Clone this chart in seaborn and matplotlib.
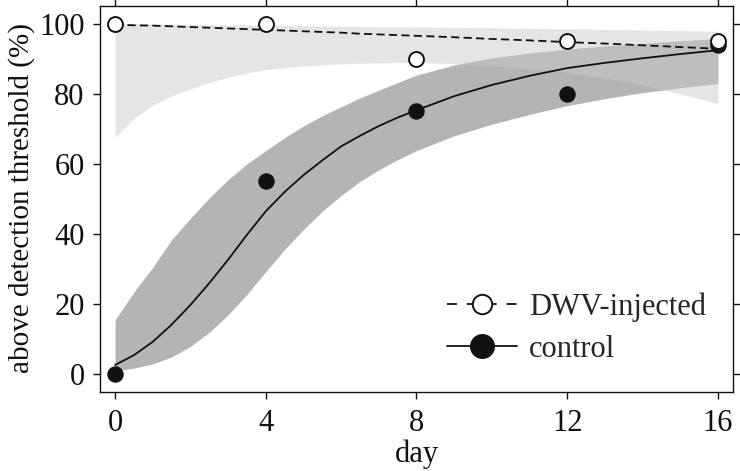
import seaborn as sns
import matplotlib.pyplot as plt
import numpy as np
import pandas as pd
from matplotlib.lines import Line2D

# observed points
days = [0, 4, 8, 12, 16]
dwv_obs = [100, 100, 90, 95, 95]
control_obs = [0, 55, 75, 80, 94]

# fitted curves and bands
fit_days = [0, 0.5, 1, 1.5, 2, 2.5, 3, 3.5, 4, 4.5, 5, 5.5, 6, 6.5, 7, 7.5, 8,
            9, 10, 11, 12, 13, 14, 15, 16]
control_fit = [2.7, 5.5, 9.3, 14.2, 19.8, 26.0, 32.7, 39.8, 46.5, 52.0, 56.8, 61.0,
               65.0, 68.0, 70.8, 73.2, 75.3, 79.3, 82.5, 85.1, 87.3, 88.8, 90.1,
               91.3, 92.4]
control_lo = [1.0, 1.8, 3.0, 5.0, 8.0, 12.0, 17.0, 22.8, 29.3, 35.6, 41.3, 46.5,
              51.0, 55.0, 58.3, 61.2, 63.8, 68.0, 71.3, 74.1, 76.6, 78.6, 80.3,
              81.7, 82.9]
control_hi = [15.5, 23.5, 30.5, 38.4, 44.5, 50.3, 55.5, 60.0, 63.8, 67.5, 70.8, 73.7,
              76.3, 78.8, 81.0, 83.2, 85.3, 88.2, 90.2, 91.6, 92.7, 93.6, 94.4,
              95.1, 95.7]
dwv_fit = [99.7, 99.5, 99.4, 99.2, 99.0, 98.8, 98.6, 98.4, 98.2, 98.0, 97.8, 97.6,
           97.4, 97.1, 96.9, 96.7, 96.5, 96.1, 95.6, 95.2, 94.7, 94.3, 93.8, 93.3,
           92.8]
dwv_lo = [67.6, 73.0, 76.7, 79.3, 81.4, 83.2, 84.7, 85.9, 86.9, 87.4, 87.9, 88.2,
          88.5, 88.7, 88.8, 88.9, 88.9, 88.6, 88.0, 87.2, 86.0, 84.5, 82.5, 80.0,
          77.2]
dwv_hi = [100, 100, 99.9, 99.85, 99.8, 99.7, 99.6, 99.55, 99.5, 99.45, 99.4, 99.3,
          99.2, 99.15, 99.1, 99.05, 99.0, 98.9, 98.8, 98.6, 98.5, 98.3, 98.2, 98.0,
          97.8]

sns.set_theme(style="ticks")
plt.rcParams['font.family'] = ['Liberation Serif', 'DejaVu Serif']
plt.rcParams['font.size'] = 22

fig = plt.figure(figsize=(7.4, 4.71), dpi=100)
ax = fig.add_axes([0.1351, 0.1677, 0.8554, 0.8196])

obs = pd.DataFrame({'day': days, 'dwv': dwv_obs, 'control': control_obs})
fit = pd.DataFrame({'day': fit_days, 'dwv': dwv_fit, 'control': control_fit})

ink = '#111111'

# bands
ax.fill_between(fit_days, control_lo, control_hi, color='#b4b4b4', lw=0, zorder=1)
ax.fill_between(fit_days, dwv_lo, dwv_hi, color='#c9c9c9', alpha=0.48, lw=0, zorder=2)

# fitted lines
sns.lineplot(data=fit, x='day', y='control', ax=ax, color=ink, lw=1.3, zorder=3)
sns.lineplot(data=fit, x='day', y='dwv', ax=ax, color=ink, lw=1.3, zorder=3)
ax.lines[-1].set_dashes((4.5, 2.4))

# points
sns.scatterplot(data=obs, x='day', y='control', ax=ax, s=115, color=ink,
                edgecolor=ink, linewidth=1.1, zorder=4)
sns.scatterplot(data=obs, x='day', y='dwv', ax=ax, s=115, color='white',
                edgecolor=ink, linewidth=1.4, zorder=5)

ax.set_xlim(-0.4, 16.4)
ax.set_ylim(-5, 105)
ax.set_xticks([0, 4, 8, 12, 16])
ax.set_yticks([0, 20, 40, 60, 80, 100])
ax.tick_params(direction='out', length=5, width=1, colors=ink,
               top=True, right=True, labeltop=False, labelright=False, labelsize=22)
ax.tick_params(axis='x', pad=7)
ax.tick_params(axis='y', pad=6)
for sp in ax.spines.values():
    sp.set_visible(True)
    sp.set_linewidth(1.0)
    sp.set_color(ink)

ax.set_xlabel('day', fontsize=22, color=ink)
ax.set_ylabel('above detection threshold (%)', fontsize=21, color=ink)
ax.xaxis.set_label_coords(0.5, -0.122)
ax.yaxis.set_label_coords(-0.102, 0.503)

handles = [
    Line2D([], [], color=ink, lw=1.3, dashes=(5.5, 5.5), marker='o', ms=14,
           mfc='white', mec=ink, mew=1.4),
    Line2D([], [], color=ink, lw=1.3, marker='o', ms=17, mfc=ink, mec=ink),
]
ax.legend(handles, ['DWV-injected', 'control'], loc='center left',
          bbox_to_anchor=(0.548, 0.165), frameon=False, fontsize=22,
          handlelength=2.3, handletextpad=0.4, labelspacing=0.42,
          borderpad=0, borderaxespad=0)

fig.savefig('out.png', dpi=100)
